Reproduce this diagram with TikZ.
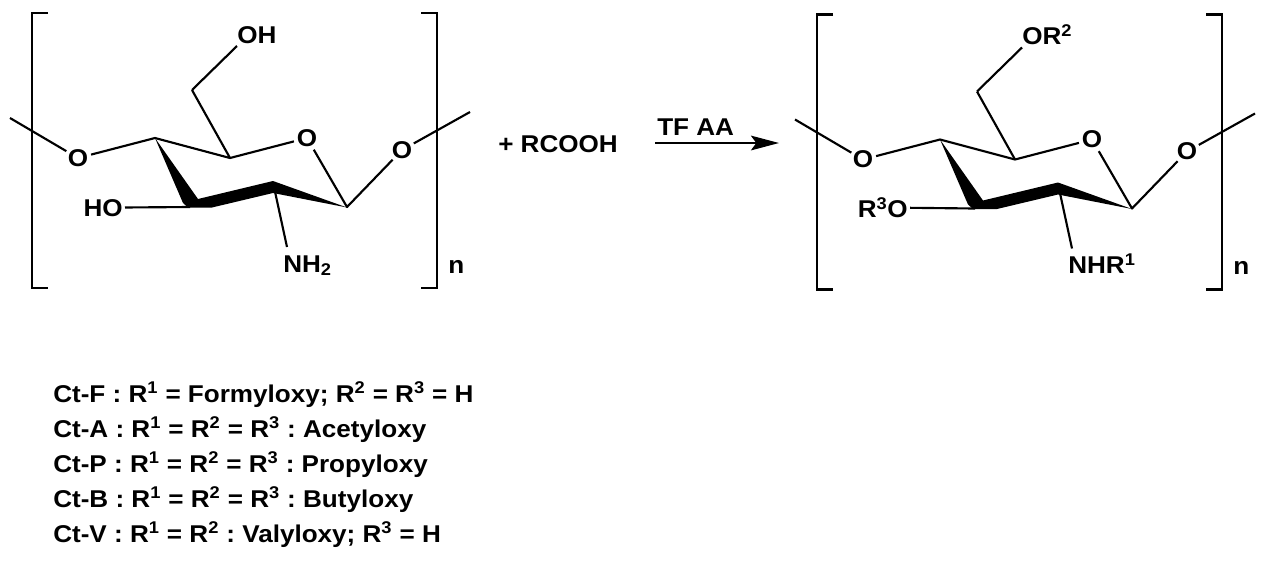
\documentclass[tikz,border=0pt]{standalone}
\usepackage{fontspec}
\setmainfont{Liberation Sans}[FakeStretch=1.075]
\usetikzlibrary{arrows.meta}
\tikzset{
  bond/.style={line width=1.6pt, line join=round},
  bracket/.style={line width=1.6pt},
  txt/.style={inner sep=0pt, font=\fontsize{18.2}{21}\selectfont\bfseries\frenchspacing},
  atom/.style={circle, inner sep=0pt, font=\fontsize{18.2}{21}\selectfont\bfseries},
  lbl/.style={inner sep=1.5pt, font=\fontsize{18.2}{21}\selectfont\bfseries},
}
\newcommand\glcunit[4]{%
  \coordinate (#1endL) at (10,118);
  \node[atom] (#1Ol) at (78,158) {O};
  \coordinate (#1C4) at (155,138);
  \coordinate (#1C5) at (230,158);
  \node[atom] (#1Or) at (307,138) {O};
  \coordinate (#1C1) at (347,207);
  \node[atom] (#1Og) at (402,150) {O};
  \coordinate (#1endR) at (470,112);
  \coordinate (#1C6) at (192,90);
  \coordinate (#1C3) at (190,207);
  \coordinate (#1C2) at (274,187);
  \draw[bond] (#1endL) -- (#1Ol) -- (#1C4) -- (#1C5) -- (#1Or) -- (#1C1) -- (#1Og) -- (#1endR);
  \draw[bond] (#1C5) -- (#1C6);
  \fill (155,138) -- (183,203) -- (188,207.5) -- (212,207.5) -- (273,193) -- (347,207.5) -- (273,181) -- (198,199) -- cycle;
  % top substituent
  \node[txt, anchor=base west] (#1top) at (237,43) {#2};
  \coordinate (#1topb) at (237,46);
  \draw[bond] (#1C6) -- (#1topb);
  % left substituent
  \node[lbl, anchor=base east] (#1left) at (125,216) {#3};
  \draw[bond] (#1left) -- (#1C3);
  % bottom substituent
  \node[txt, anchor=base west] (#1bot) at (283,272) {#4};
  \coordinate (#1botb) at (287,247);
  \draw[bond] (#1C2) -- (#1botb);
  % brackets
  \draw[bracket] (48,13) -- (32,13) -- (32,288) -- (48,288);
  \draw[bracket] (421,13) -- (437,13) -- (437,288) -- (421,288);
  \node[txt, anchor=base west] (#1n) at (448,273) {n};
}
\begin{document}
\begin{tikzpicture}[x=0.75pt, y=-0.75pt]
  \useasboundingbox (0,0) rectangle (1267,565);
  \fill[white] (0,0) rectangle (1267,565);
  \begin{scope}
    \glcunit{a}{OH}{HO}{NH\textsubscript{2}}
  \end{scope}
  \begin{scope}[shift={(785,1.5)}]
    \glcunit{b}{OR\textsuperscript{2}}{R\textsuperscript{3}O}{NHR\textsuperscript{1}}
  \end{scope}
  \node[txt, anchor=base west] (reag) at (498,152) {+ RCOOH};
  \coordinate (arS) at (655,143);
  \coordinate (arE) at (779,143);
  \draw[line width=1.8pt, -{Stealth[length=21pt, width=11pt, inset=4pt]}] (arS) -- (arE);
  \node[txt, anchor=base west] (cond) at (657,135) {TF AA};
  \node[txt, anchor=base west] (l1) at (53,402) {Ct-F : R\textsuperscript{1} = Formyloxy; R\textsuperscript{2} = R\textsuperscript{3} = H};
  \node[txt, anchor=base west] (l2) at (53,437) {Ct-A : R\textsuperscript{1} = R\textsuperscript{2} = R\textsuperscript{3} : Acetyloxy};
  \node[txt, anchor=base west] (l3) at (53,472) {Ct-P : R\textsuperscript{1} = R\textsuperscript{2} = R\textsuperscript{3} : Propyloxy};
  \node[txt, anchor=base west] (l4) at (53,507) {Ct-B : R\textsuperscript{1} = R\textsuperscript{2} = R\textsuperscript{3} : Butyloxy};
  \node[txt, anchor=base west] (l5) at (53,542) {Ct-V : R\textsuperscript{1} = R\textsuperscript{2} : Valyloxy; R\textsuperscript{3} = H};
\end{tikzpicture}
\end{document}
